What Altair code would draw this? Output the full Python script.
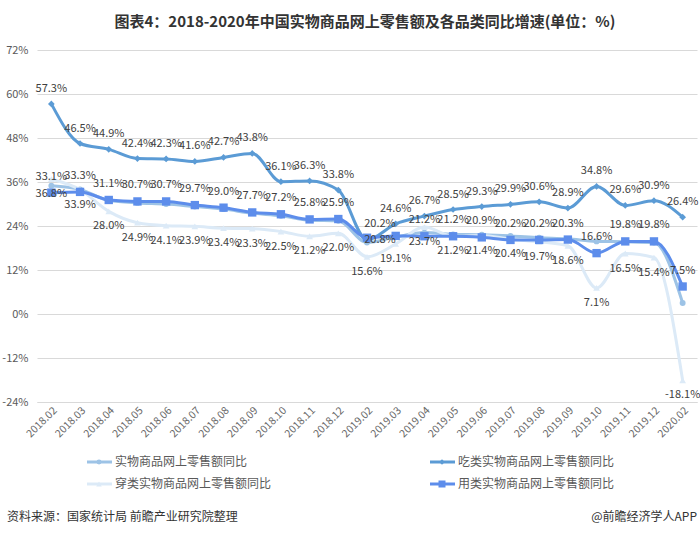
import altair as alt
import pandas as pd

months = ["2018.02", "2018.03", "2018.04", "2018.05", "2018.06", "2018.07", "2018.08",
          "2018.09", "2018.10", "2018.11", "2018.12", "2019.02", "2019.03", "2019.04",
          "2019.05", "2019.06", "2019.07", "2019.08", "2019.09", "2019.10", "2019.11",
          "2019.12", "2020.02"]

series_names = ["实物商品网上零售额同比", "吃类实物商品网上零售额同比",
                "穿类实物商品网上零售额同比", "用类实物商品网上零售额同比"]

total_vals = [35.0, 34.0, 31.0, 30.3, 30.0, 29.3, 28.6, 27.5, 26.8, 25.6, 25.4,
              19.5, 21.0, 22.2, 21.7, 21.6, 21.3, 20.8, 20.5, 19.8, 19.7, 19.5, 3.0]
food_vals = [57.3, 46.5, 44.9, 42.4, 42.3, 41.6, 42.7, 43.8, 36.1, 36.3, 33.8,
             20.2, 24.6, 26.7, 28.5, 29.3, 29.9, 30.6, 28.9, 34.8, 29.6, 30.9, 26.4]
cloth_vals = [36.8, 33.9, 28.0, 24.9, 24.1, 23.9, 23.4, 23.3, 22.5, 21.2, 22.0,
              15.6, 19.1, 23.7, 21.2, 21.4, 20.4, 19.7, 18.6, 7.1, 16.5, 15.4, -18.1]
use_vals = [33.1, 33.3, 31.1, 30.7, 30.7, 29.7, 29.0, 27.7, 27.2, 25.8, 25.9,
            20.8, 21.3, 21.2, 21.2, 20.9, 20.2, 20.2, 20.3, 16.6, 19.8, 19.8, 7.5]

# which points carry a visible data label
total_labeled = [False] * 23
food_labeled = [True] * 23
cloth_labeled = [True] * 23
use_labeled = [True] * 11 + [True, False] + [True] * 10

y_ticks = [-24, -12, 0, 12, 24, 36, 48, 60, 72]

title_text = "图表4：2018-2020年中国实物商品网上零售额及各品类同比增速(单位：%)"
source_text = "资料来源：国家统计局 前瞻产业研究院整理"
brand_text = "@前瞻经济学人APP"

colors = ["#9DC3E6", "#5B9BD5", "#DCEAF7", "#5D8DEB"]
shapes = ["circle", "diamond", "triangle-up", "square"]
sizes = [35, 45, 45, 70]
label_dy = [-15, -15, 15, -16]

W, H = 660, 352
FONT = "Noto Sans CJK SC"

vals = [total_vals, food_vals, cloth_vals, use_vals]
labeled = [total_labeled, food_labeled, cloth_labeled, use_labeled]

rows = []
for s, name in enumerate(series_names):
    for i, m in enumerate(months):
        v = vals[s][i]
        rows.append({"month": m, "series": name, "value": v,
                     "label": f"{v:.1f}%" if labeled[s][i] else ""})
df = pd.DataFrame(rows)

x_enc = alt.X("month:O", sort=months,
              scale=alt.Scale(type="point", padding=0.5),
              axis=alt.Axis(title=None, labelAngle=-45, ticks=False,
                            domainColor="#D9D9D9", labelColor="#666666",
                            labelFontSize=10.5, labelPadding=3, labelFont=FONT))
y_enc = alt.Y("value:Q", scale=alt.Scale(domain=[-24, 72], nice=False, zero=False),
              axis=alt.Axis(title=None, values=y_ticks, labelExpr="datum.value + '%'",
                            grid=True, gridColor="#D9D9D9", domain=False, ticks=False,
                            labelColor="#595959", labelFontSize=11, labelPadding=9,
                            labelFont=FONT))

layers = []
for s, name in enumerate(series_names):
    base = alt.Chart(df).transform_filter(alt.datum.series == name)
    layers.append(base.mark_line(color=colors[s], strokeWidth=3, interpolate="monotone")
                  .encode(x=x_enc, y=y_enc))
    layers.append(base.mark_point(color=colors[s], filled=True, opacity=1,
                                  shape=shapes[s], size=sizes[s])
                  .encode(x=x_enc, y=y_enc))

for s, name in enumerate(series_names):
    if not any(labeled[s]):
        continue
    base = alt.Chart(df).transform_filter(alt.datum.series == name)
    if s in (1, 3):
        normal = base.transform_filter(alt.datum.month != "2019.02")
        special = base.transform_filter(alt.datum.month == "2019.02")
        layers.append(normal.mark_text(dy=label_dy[s], fontSize=11, color="#404040", font=FONT)
                      .encode(x=x_enc, y=y_enc, text="label:N"))
        sp_dy = -16 if s == 1 else 2
        layers.append(special.mark_text(dx=13, dy=sp_dy, fontSize=11, color="#404040", font=FONT)
                      .encode(x=x_enc, y=y_enc, text="label:N"))
    else:
        layers.append(base.mark_text(dy=label_dy[s], fontSize=11, color="#404040", font=FONT)
                      .encode(x=x_enc, y=y_enc, text="label:N"))

# custom legend (two columns, two rows)
legend_order = [0, 1, 2, 3]
for k, s in enumerate(legend_order):
    col, row = k % 2, k // 2
    lx0 = 50 + col * 343
    ly = 412 + row * 22
    one = alt.Data(values=[{"t": series_names[s]}])
    layers.append(alt.Chart(one).mark_rule(color=colors[s], strokeWidth=3)
                  .encode(x=alt.value(lx0), x2=alt.value(lx0 + 25), y=alt.value(ly)))
    layers.append(alt.Chart(one).mark_point(color=colors[s], filled=True, opacity=1,
                                            shape=shapes[s], size=sizes[s] * 0.7)
                  .encode(x=alt.value(lx0 + 12), y=alt.value(ly)))
    layers.append(alt.Chart(one).mark_text(align="left", baseline="middle", fontSize=12,
                                           color="#595959", font=FONT)
                  .encode(x=alt.value(lx0 + 28), y=alt.value(ly), text="t:N"))

# title and footer
layers.append(alt.Chart(alt.Data(values=[{"t": title_text}]))
              .mark_text(align="center", baseline="middle", fontSize=15, fontWeight="bold",
                         color="#333333", font=FONT)
              .encode(x=alt.value(W / 2 - 2), y=alt.value(-28), text="t:N"))
layers.append(alt.Chart(alt.Data(values=[{"t": source_text}]))
              .mark_text(align="left", baseline="middle", fontSize=12, color="#333333", font=FONT)
              .encode(x=alt.value(-30), y=alt.value(467), text="t:N"))
layers.append(alt.Chart(alt.Data(values=[{"t": brand_text}]))
              .mark_text(align="right", baseline="middle", fontSize=12, color="#333333", font=FONT)
              .encode(x=alt.value(W), y=alt.value(467), text="t:N"))

chart = alt.layer(*layers).properties(
    width=W, height=H,
    autosize=alt.AutoSizeParams(type="none"),
    padding={"left": 37, "top": 50, "right": 3, "bottom": 135},
    background="white",
).configure_view(stroke=None)

chart.save("out.html", embed_options={"renderer": "svg", "actions": False})
